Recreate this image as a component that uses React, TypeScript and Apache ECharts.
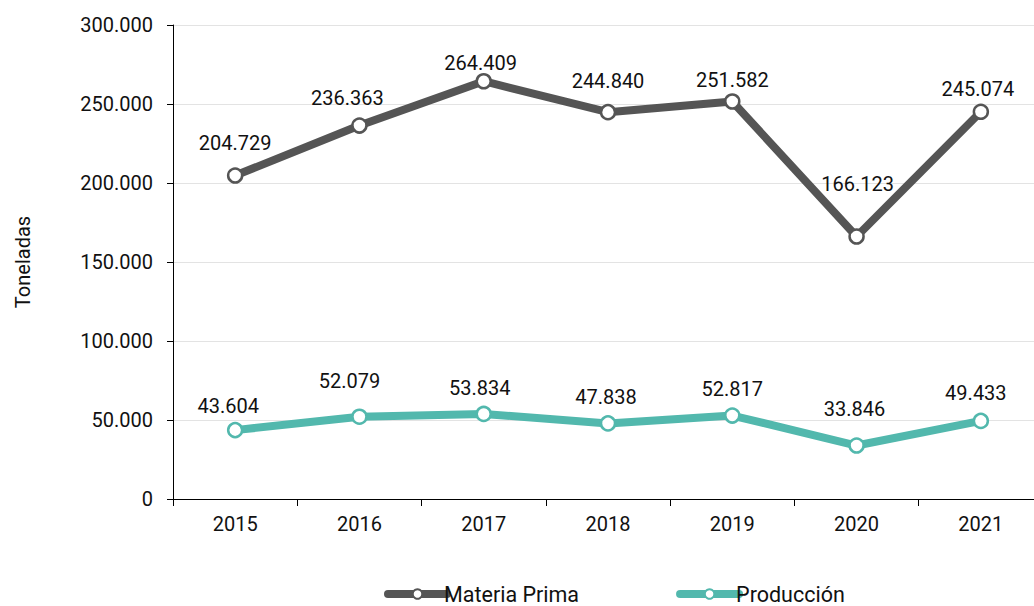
import React, { useEffect, useRef } from "react";
import * as echarts from "echarts";

const categories = ["2015", "2016", "2017", "2018", "2019", "2020", "2021"];
const materiaPrima = [204729, 236363, 264409, 244840, 251582, 166123, 245074];
const produccion = [43604, 52079, 53834, 47838, 52817, 33846, 49433];
const yTicks = { min: 0, max: 300000, interval: 50000 };

// manual label nudges (dx, dy) in px, as placed in the original chart
const materiaPrimaLabelNudge: [number, number][] = [[0, 2], [-12, 7], [-3, 16], [0, 3], [0, 13], [1, -18], [-3, 11]];
const produccionLabelNudge: [number, number][] = [[-7, 10], [-10, -1], [-4, 8], [-2, 8], [0, 8], [-2, -2], [-5, 6]];
const labelNudges = [materiaPrimaLabelNudge, produccionLabelNudge];

const fmt = (v: number) => (v === 0 ? "0" : Math.round(v).toLocaleString("de-DE"));

export default function App() {
  const ref = useRef<HTMLDivElement>(null);
  useEffect(() => {
    const chart = echarts.init(ref.current!, null, { renderer: "svg" });
    const font = "Roboto";
    const mkSeries = (name: string, values: number[], color: string) => ({
      name,
      type: "line",
      data: values,
      symbol: "circle",
      symbolSize: 14,
      lineStyle: { width: 8, color, cap: "round" },
      itemStyle: { color: "#ffffff", borderColor: color, borderWidth: 2.5 },
      label: {
        show: true,
        position: "top",
        distance: 16,
        color: "#111111",
        fontSize: 20,
        fontFamily: font,
        formatter: (p: any) => fmt(p.value),
      },
      labelLayout: (p: any) => {
        const n = labelNudges[p.seriesIndex]?.[p.dataIndex] || [0, 0];
        return { dx: n[0], dy: n[1], hideOverlap: false };
      },
      emphasis: { disabled: true },
    });
    chart.setOption({
      animation: false,
      textStyle: { fontFamily: font },
      grid: { left: 173, width: 870, top: 25, bottom: 107, outerBoundsMode: "none", containLabel: false },
      legend: {
        top: 583,
        left: 384,
        padding: 0,
        itemGap: 97,
        itemWidth: 59,
        itemHeight: 12,
        lineStyle: { width: 8, cap: "round" },
        textStyle: { fontSize: 21.5, color: "#111111", fontFamily: font, padding: [0, 0, 0, -8] },
        data: ["Materia Prima", "Producción"],
      },
      xAxis: {
        type: "category",
        data: categories,
        boundaryGap: true,
        axisLine: { lineStyle: { color: "#000000", width: 1 } },
        axisTick: { show: true, length: 7, lineStyle: { color: "#000000" } },
        axisLabel: { fontSize: 20, color: "#111111", margin: 15, fontFamily: font },
      },
      yAxis: {
        type: "value",
        min: yTicks.min,
        max: yTicks.max,
        interval: yTicks.interval,
        name: "Toneladas",
        nameLocation: "middle",
        nameGap: 140,
        nameRotate: 90,
        nameTextStyle: { fontSize: 20, color: "#111111", fontFamily: font },
        axisLine: { show: true, lineStyle: { color: "#000000", width: 1 } },
        axisTick: { show: true, length: 6, lineStyle: { color: "#000000" } },
        axisLabel: { fontSize: 20, color: "#111111", margin: 20, fontFamily: font, formatter: fmt },
        splitLine: { lineStyle: { color: "#e3e3e3", width: 1 } },
      },
      series: [
        mkSeries("Materia Prima", materiaPrima, "#555555"),
        mkSeries("Producción", produccion, "#52b8ad"),
      ],
    });
    return () => chart.dispose();
  }, []);
  return <div ref={ref} style={{ width: 1034, height: 606, position: "absolute", left: 0, top: 0 }} />;
}
